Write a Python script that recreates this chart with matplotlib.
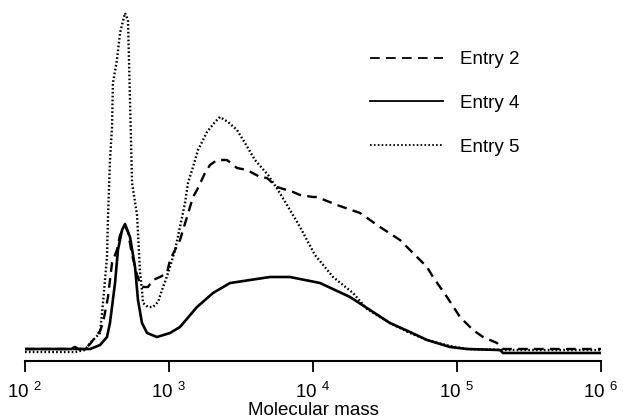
import matplotlib
matplotlib.use("Agg")
import matplotlib.pyplot as plt
from matplotlib.ticker import FixedLocator, FixedFormatter, NullLocator

plt.rcParams['font.family'] = ['Liberation Sans', 'DejaVu Sans']
plt.rcParams['mathtext.fontset'] = 'custom'
plt.rcParams['mathtext.rm'] = 'Liberation Sans'
plt.rcParams['lines.scale_dashes'] = False

# GPC traces (molecular mass, detector signal in arbitrary units)
mass_entry2 = [100, 260, 283, 332, 348, 377, 402, 435, 457, 495, 519, 554, 600, 629,
               660, 715, 774, 866, 968, 1016, 1192, 1251, 1334, 1468, 1565, 1778,
               1926, 2154, 2528, 2966, 3481, 4285, 4794, 5623, 7263, 8123, 10000,
               10660, 14680, 21210, 29200, 40200, 52760, 61900, 68130, 85220,
               104900, 129200, 151600, 189600, 208600, 1000000]
signal_entry2 = [12, 12, 17, 30, 38, 64, 98, 111, 126, 135, 129, 106, 86, 78,
                 74, 74, 81, 84, 88, 101, 121, 131, 144, 164, 171, 188,
                 196, 201, 201, 193, 191, 184, 183, 174, 169, 166, 164,
                 164, 156, 148, 134, 121, 104, 94, 84, 64,
                 44, 31, 24, 18, 12, 12]

mass_entry4 = [100, 210, 222, 235, 283, 332, 371, 389, 422, 442, 472, 495, 536, 581,
               609, 649, 704, 825, 1016, 1192, 1565, 2021, 2652, 2966, 3654, 5028,
               6923, 8800, 11180, 18070, 24880, 34240, 47160, 61900, 89420, 117300,
               198900, 208600, 1000000]
signal_entry4 = [12, 12, 14, 12, 12, 16, 24, 38, 78, 111, 131, 137, 124, 94,
                 61, 38, 28, 24, 28, 34, 54, 68, 78, 79, 81, 84,
                 84, 81, 78, 64, 51, 38, 29, 21, 14, 12,
                 11, 8, 8]

mass_entry5 = [100, 222, 260, 283, 332, 348, 371, 377, 389, 402, 408, 435, 457, 495,
               519, 536, 554, 600, 629, 649, 660, 715, 774, 839, 894, 938, 1016,
               1101, 1192, 1292, 1355, 1468, 1591, 1835, 2086, 2261, 2568, 2966,
               3372, 3956, 4871, 5714, 6923, 8123, 10320, 13770, 18960, 23710,
               34240, 47160, 61900, 89420, 117300, 198900, 1000000]
signal_entry5 = [9, 9, 11, 18, 28, 58, 104, 144, 200, 234, 278, 301, 328, 348,
                 341, 261, 178, 146, 89, 71, 58, 54, 54, 59, 71, 79, 94,
                 111, 134, 158, 178, 194, 211, 229, 239, 244, 239, 231,
                 218, 201, 186, 171, 151, 134, 106, 84, 68, 52,
                 38, 28, 21, 15, 12, 11, 11]

decades = [1e2, 1e3, 1e4, 1e5, 1e6]
decade_labels = ['10$^{\\;\\,2}$', '10$^{\\;\\,3}$', '10$^{\\;\\,4}$', '10$^{\\;\\,5}$', '10$^{\\;\\,6}$']

fig = plt.figure(figsize=(6.23, 4.20), dpi=100)
ax = fig.add_axes([25 / 623, 59 / 420, 576 / 623, 361 / 420])

ax.plot(mass_entry2, signal_entry2, color='black', lw=1.7, dashes=(7, 4.5), label='Entry 2')
ax.plot(mass_entry4, signal_entry4, color='black', lw=1.9, label='Entry 4')
ax.plot(mass_entry5, signal_entry5, color='black', lw=1.7, dashes=(1.2, 1.6), label='Entry 5')

ax.set_xscale('log')
ax.set_xlim(1e2, 1e6)
ax.set_ylim(0, 361)

for side in ['left', 'right', 'top']:
    ax.spines[side].set_visible(False)
ax.spines['bottom'].set_linewidth(1.5)
ax.set_yticks([])

ax.xaxis.set_major_locator(FixedLocator(decades))
ax.xaxis.set_major_formatter(FixedFormatter(decade_labels))
ax.xaxis.set_minor_locator(NullLocator())
ax.tick_params(axis='x', direction='out', length=8, width=1.3, labelsize=13.5, pad=6.5)
ax.set_xlabel('Molecular mass', fontsize=13.5, labelpad=0)

leg = ax.legend(loc='upper left', bbox_to_anchor=(370 / 623, 1 - 51 / 420),
                bbox_transform=fig.transFigure, frameon=False, fontsize=13.5,
                handlelength=3.9, handletextpad=0.9, labelspacing=1.42,
                borderpad=0, borderaxespad=0)
for line in leg.get_lines():
    line.set_linewidth(1.3)

fig.savefig('out.png', dpi=100)
